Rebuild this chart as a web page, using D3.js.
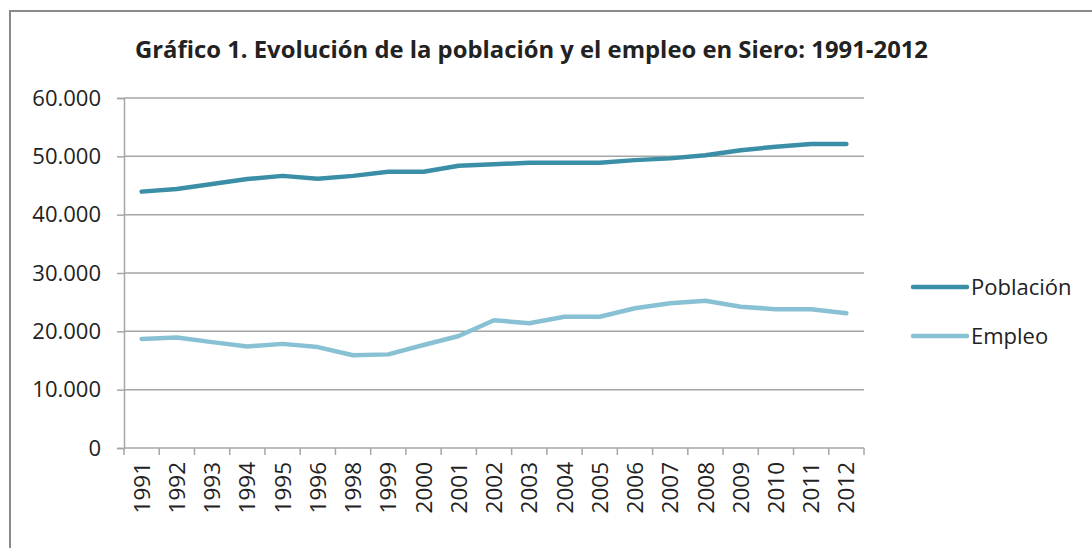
<!DOCTYPE html>
<html>
<head>
<meta charset="utf-8">
<script src="https://cdn.jsdelivr.net/npm/d3@7"></script>
<style>
  body { margin: 0; background: #fff; }
  text { font-family: "Open Sans", "Noto Sans", sans-serif; fill: #222; }
</style>
</head>
<body>
<div id="vis-container"></div>
<script>
// categories (1997 is missing in the source)
const years = ["1991","1992","1993","1994","1995","1996","1998","1999","2000","2001",
  "2002","2003","2004","2005","2006","2007","2008","2009","2010","2011","2012"]

const poblacion = [43950, 44400, 45250, 46100, 46650, 46150, 46650, 47350, 47350, 48400,
  48650, 48900, 48900, 48900, 49350, 49650, 50200, 51050, 51650, 52100, 52100]

const empleo = [18700, 18950, 18150, 17400, 17850, 17300, 15900, 16050, 17650, 19200,
  21900, 21400, 22500, 22500, 23950, 24800, 25250, 24200, 23800, 23800, 23100]

const yTicks = [0, 10000, 20000, 30000, 40000, 50000, 60000]

const seriesNames = ["Población", "Empleo"]
const seriesColors = ["#3a8fa7", "#88c1d4"]

const titleText = "Gráfico 1. Evolución de la población y el empleo en Siero: 1991-2012"

////////////////////////////////////
///////////// SVG Setup ////////////
////////////////////////////////////

const svgWidth = 1092
const svgHeight = 548

const plot = { left: 124, right: 864, top: 98, bottom: 448 }

const svg = d3.select('#vis-container')
  .append('svg')
  .attr('width', svgWidth)
  .attr('height', svgHeight)

// chart frame
svg.append('rect')
  .attr('x', 10).attr('y', 11)
  .attr('width', 1100).attr('height', 600)
  .attr('fill', 'none')
  .attr('stroke', '#8a8a8a')
  .attr('stroke-width', 2)

svg.append('text')
  .attr('x', 135).attr('y', 58)
  .attr('textLength', 793)
  .attr('lengthAdjust', 'spacingAndGlyphs')
  .style('font-size', '23px')
  .style('font-weight', 'bold')
  .text(titleText)

////////////////////////////////////
/////////////// Scales /////////////
////////////////////////////////////

const xBand = d3.scaleBand()
  .domain(years)
  .range([plot.left, plot.right])

const x = d => xBand(d) + xBand.bandwidth() / 2

const yScale = d3.scaleLinear()
  .domain([0, 60000])
  .range([plot.bottom, plot.top])

const fmt = v => d3.format(',')(v).replace(/,/g, '.')

////////////////////////////////////
////////////// Axis ////////////////
////////////////////////////////////

// gridlines
svg.append('g')
  .selectAll('line')
  .data(yTicks.filter(d => d > 0))
  .join('line')
  .attr('x1', plot.left).attr('x2', plot.right)
  .attr('y1', d => yScale(d)).attr('y2', d => yScale(d))
  .attr('stroke', '#a6a6a6')
  .attr('stroke-width', 1.5)

const yAxis = d3.axisLeft(yScale)
  .tickValues(yTicks)
  .tickSize(7)
  .tickPadding(16)
  .tickFormat(fmt)

const gy = svg.append('g')
  .attr('transform', `translate(${plot.left},0)`)
  .call(yAxis)
gy.select('.domain').attr('stroke', '#a6a6a6').attr('stroke-width', 1.5)
gy.selectAll('.tick line').attr('stroke', '#a6a6a6').attr('stroke-width', 1.5)
gy.selectAll('.tick text')
  .style('font-size', '22px')
  .style('font-family', '"Open Sans", sans-serif')
  .attr('fill', '#222')

// x axis: labels at band centers, ticks at band edges
const gx = svg.append('g')
  .attr('transform', `translate(0,${plot.bottom})`)

gx.append('line')
  .attr('x1', plot.left).attr('x2', plot.right)
  .attr('stroke', '#a6a6a6').attr('stroke-width', 1.5)

gx.selectAll('line.tk')
  .data(years.map(d => xBand(d)).concat([plot.right]))
  .join('line')
  .attr('class', 'tk')
  .attr('x1', d => d).attr('x2', d => d)
  .attr('y1', 0).attr('y2', 7)
  .attr('stroke', '#a6a6a6').attr('stroke-width', 1.5)

gx.selectAll('text')
  .data(years)
  .join('text')
  .attr('transform', d => `translate(${x(d)},14) rotate(-90)`)
  .attr('text-anchor', 'end')
  .attr('dy', '0.36em')
  .style('font-size', '22.5px')
  .text(d => d)

////////////////////////////////////
///////////// Lines ////////////////
////////////////////////////////////

const line = d3.line()
  .x((d, i) => x(years[i]))
  .y(d => yScale(d))

const series = [poblacion, empleo]

svg.append('g')
  .selectAll('path')
  .data(series)
  .join('path')
  .attr('d', d => line(d))
  .attr('fill', 'none')
  .attr('stroke', (d, i) => seriesColors[i])
  .attr('stroke-width', 4.5)
  .attr('stroke-linecap', 'round')
  .attr('stroke-linejoin', 'round')

////////////////////////////////////
///////////// Legend ///////////////
////////////////////////////////////

const legend = svg.append('g')
  .selectAll('g')
  .data(seriesNames)
  .join('g')
  .attr('transform', (d, i) => `translate(913,${287 + i * 49})`)

legend.append('line')
  .attr('x1', 0).attr('x2', 54)
  .attr('stroke', (d, i) => seriesColors[i])
  .attr('stroke-width', 4.5)
  .attr('stroke-linecap', 'round')

legend.append('text')
  .attr('x', 58)
  .attr('dy', '0.35em')
  .style('font-size', '22px')
  .text(d => d)
</script>
</body>
</html>
